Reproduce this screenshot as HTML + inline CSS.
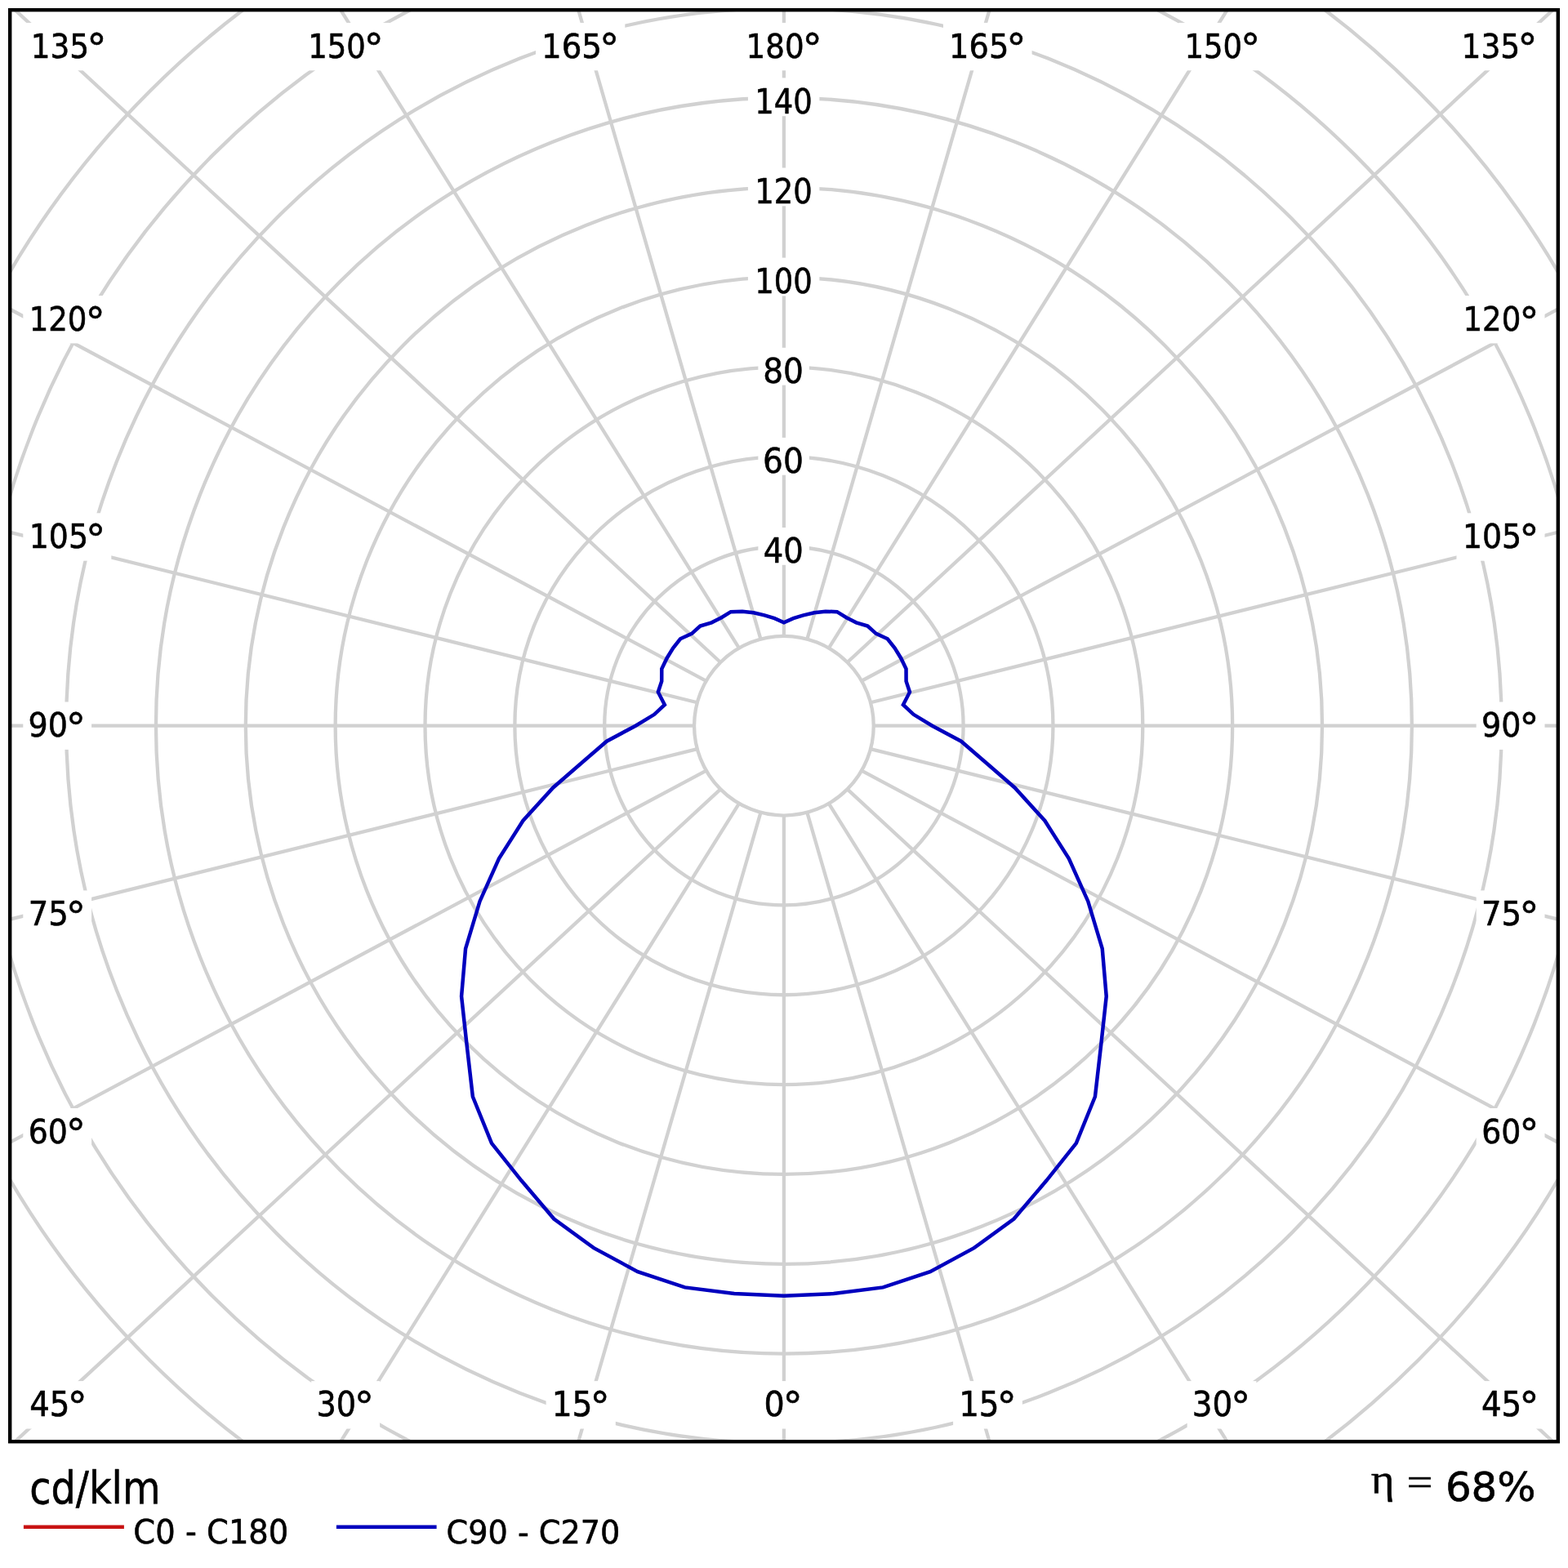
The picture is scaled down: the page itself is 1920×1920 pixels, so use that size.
<!DOCTYPE html>
<html><head><meta charset="utf-8"><title>Polar diagram</title>
<style>html,body{margin:0;padding:0;background:#fff;width:1920px;height:1920px;overflow:hidden}svg{display:block}</style>
</head><body>
<svg width="1920" height="1920" viewBox="0 0 1920 1920">
<defs><clipPath id="fc"><rect x="12.2" y="12.2" width="1895.6" height="1753.0"/></clipPath></defs>
<rect width="1920" height="1920" fill="#fff"/>
<g clip-path="url(#fc)" fill="none" stroke="#d1d1d1" stroke-width="4.3">
<circle cx="959.90" cy="888.70" r="109.85"/>
<circle cx="959.90" cy="888.70" r="219.70"/>
<circle cx="959.90" cy="888.70" r="329.55"/>
<circle cx="959.90" cy="888.70" r="439.40"/>
<circle cx="959.90" cy="888.70" r="549.25"/>
<circle cx="959.90" cy="888.70" r="659.10"/>
<circle cx="959.90" cy="888.70" r="768.95"/>
<circle cx="959.90" cy="888.70" r="878.80"/>
<circle cx="959.90" cy="888.70" r="988.65"/>
<circle cx="959.90" cy="888.70" r="1098.50"/>
<path d="M959.90 998.55L959.90 3998.55M931.47 994.81L96.57 3876.29M904.98 983.83L-683.77 3528.61M882.22 966.38L-1320.32 3003.23M864.77 943.62L-1781.65 2356.59M853.79 917.13L-2058.14 1638.69M850.05 888.70L-2149.95 888.70M853.79 860.27L-2058.14 138.71M864.77 833.78L-1781.65 -579.19M882.22 811.02L-1320.32 -1225.83M904.98 793.57L-683.77 -1751.21M931.47 782.59L96.57 -2098.89M959.90 778.85L959.90 -2221.15M988.33 782.59L1823.23 -2098.89M1014.83 793.57L2603.57 -1751.21M1037.58 811.02L3240.12 -1225.83M1055.03 833.77L3701.45 -579.19M1066.01 860.27L3977.94 138.71M1069.75 888.70L4069.75 888.70M1066.01 917.13L3977.94 1638.69M1055.03 943.62L3701.45 2356.59M1037.58 966.38L3240.12 3003.23M1014.83 983.83L2603.57 3528.61M988.33 994.81L1823.23 3876.29"/>
</g>
<g fill="#fff">
<rect x="30.6" y="27.9" width="107.0" height="58.4"/>
<rect x="369.9" y="27.9" width="107.0" height="58.4"/>
<rect x="656.0" y="27.9" width="109.3" height="58.4"/>
<rect x="906.3" y="27.9" width="107.5" height="58.4"/>
<rect x="1155.0" y="27.9" width="108.6" height="58.4"/>
<rect x="1443.2" y="27.9" width="107.1" height="58.4"/>
<rect x="1782.3" y="27.9" width="107.3" height="58.4"/>
<rect x="28.3" y="362.0" width="108.0" height="58.4"/>
<rect x="1783.5" y="362.0" width="108.0" height="58.4"/>
<rect x="28.3" y="628.3" width="108.0" height="58.4"/>
<rect x="1783.5" y="628.3" width="108.0" height="58.4"/>
<rect x="28.3" y="859.5" width="83.8" height="58.4"/>
<rect x="1807.7" y="859.5" width="83.8" height="58.4"/>
<rect x="28.3" y="1090.4" width="83.8" height="58.4"/>
<rect x="1807.7" y="1090.4" width="83.8" height="58.4"/>
<rect x="28.3" y="1357.0" width="83.8" height="58.4"/>
<rect x="1807.7" y="1357.0" width="83.8" height="58.4"/>
<rect x="29.1" y="1691.1" width="84.7" height="58.4"/>
<rect x="381.2" y="1691.1" width="83.9" height="58.4"/>
<rect x="668.6" y="1691.1" width="85.2" height="58.4"/>
<rect x="929.1" y="1691.1" width="60.7" height="58.4"/>
<rect x="1167.1" y="1691.1" width="84.8" height="58.4"/>
<rect x="1453.7" y="1691.1" width="84.7" height="58.4"/>
<rect x="1806.8" y="1691.1" width="84.7" height="58.4"/>
<rect x="928.4" y="646.0" width="62.5" height="45.8"/>
<rect x="928.4" y="535.9" width="62.5" height="45.8"/>
<rect x="928.4" y="425.8" width="62.5" height="45.8"/>
<rect x="915.9" y="315.6" width="87.5" height="46.8"/>
<rect x="915.9" y="205.5" width="87.5" height="46.8"/>
<rect x="915.9" y="95.4" width="87.5" height="46.8"/>
</g>
<path d="M959.90 1586.70 L899.07 1584.04 L838.64 1576.39 L780.80 1557.12 L727.16 1528.16 L678.31 1492.57 L638.40 1445.55 L601.99 1399.85 L578.86 1342.81 L571.34 1277.26 L565.08 1219.99 L570.07 1161.67 L587.51 1103.70 L610.97 1051.41 L640.40 1004.99 L677.27 964.43 L714.68 931.94 L742.83 907.69 L778.30 888.70 L801.21 874.82 L813.85 862.95 L805.83 847.42 L810.21 834.22 L810.27 818.93 L816.57 805.95 L824.17 793.66 L833.04 782.25 L847.05 775.85 L857.38 766.52 L871.40 762.30 L883.40 756.20 L894.82 749.13 L908.94 748.69 L922.81 750.28 L936.04 753.39 L948.40 757.20 L959.90 762.30 L971.40 757.20 L983.76 753.39 L996.99 750.28 L1010.86 748.69 L1024.98 749.13 L1036.40 756.20 L1048.40 762.30 L1062.42 766.52 L1072.75 775.85 L1086.76 782.25 L1095.63 793.66 L1103.23 805.95 L1109.53 818.93 L1109.59 834.22 L1113.97 847.42 L1105.95 862.95 L1118.59 874.82 L1141.50 888.70 L1176.97 907.69 L1205.12 931.94 L1242.53 964.43 L1279.40 1004.99 L1308.83 1051.41 L1332.29 1103.70 L1349.73 1161.67 L1354.72 1219.99 L1348.46 1277.26 L1340.94 1342.81 L1317.81 1399.85 L1281.40 1445.55 L1241.49 1492.57 L1192.64 1528.16 L1139.00 1557.12 L1081.16 1576.39 L1020.73 1584.04 Z" fill="none" stroke="#0000be" stroke-width="4.5" stroke-linejoin="miter"/>
<g fill="#000" stroke="#000" stroke-width="0.55" stroke-linejoin="round">
<text x="37.82" y="70.80" font-family="'DejaVu Sans Condensed','DejaVu Sans',sans-serif" font-stretch="condensed" font-size="41.52">135</text>
<text transform="translate(106.28 76.98) scale(1.0856 1)" font-family="'DejaVu Sans Condensed','DejaVu Sans',sans-serif" font-stretch="condensed" font-size="49.84">°</text>
<text transform="translate(377.17 70.80) scale(0.9889 1)" font-family="'DejaVu Sans Condensed','DejaVu Sans',sans-serif" font-stretch="condensed" font-size="41.52">150</text>
<text transform="translate(445.58 76.98) scale(1.0856 1)" font-family="'DejaVu Sans Condensed','DejaVu Sans',sans-serif" font-stretch="condensed" font-size="49.84">°</text>
<text transform="translate(663.07 70.80) scale(1.0377 1)" font-family="'DejaVu Sans Condensed','DejaVu Sans',sans-serif" font-stretch="condensed" font-size="41.52">165</text>
<text transform="translate(733.98 76.98) scale(1.0856 1)" font-family="'DejaVu Sans Condensed','DejaVu Sans',sans-serif" font-stretch="condensed" font-size="49.84">°</text>
<text transform="translate(913.54 70.80) scale(0.9966 1)" font-family="'DejaVu Sans Condensed','DejaVu Sans',sans-serif" font-stretch="condensed" font-size="41.52">180</text>
<text transform="translate(982.48 76.98) scale(1.0856 1)" font-family="'DejaVu Sans Condensed','DejaVu Sans',sans-serif" font-stretch="condensed" font-size="49.84">°</text>
<text transform="translate(1162.12 70.80) scale(1.0268 1)" font-family="'DejaVu Sans Condensed','DejaVu Sans',sans-serif" font-stretch="condensed" font-size="41.52">165</text>
<text transform="translate(1232.28 76.98) scale(1.0856 1)" font-family="'DejaVu Sans Condensed','DejaVu Sans',sans-serif" font-stretch="condensed" font-size="49.84">°</text>
<text transform="translate(1450.47 70.80) scale(0.9905 1)" font-family="'DejaVu Sans Condensed','DejaVu Sans',sans-serif" font-stretch="condensed" font-size="41.52">150</text>
<text transform="translate(1518.98 76.98) scale(1.0856 1)" font-family="'DejaVu Sans Condensed','DejaVu Sans',sans-serif" font-stretch="condensed" font-size="49.84">°</text>
<text transform="translate(1789.50 70.80) scale(1.0064 1)" font-family="'DejaVu Sans Condensed','DejaVu Sans',sans-serif" font-stretch="condensed" font-size="41.52">135</text>
<text transform="translate(1858.28 76.98) scale(1.0856 1)" font-family="'DejaVu Sans Condensed','DejaVu Sans',sans-serif" font-stretch="condensed" font-size="49.84">°</text>
<text transform="translate(35.65 404.91) scale(1.0129 1)" font-family="'DejaVu Sans Condensed','DejaVu Sans',sans-serif" font-stretch="condensed" font-size="40.73">120</text>
<text transform="translate(104.38 411.68) scale(1.0856 1)" font-family="'DejaVu Sans Condensed','DejaVu Sans',sans-serif" font-stretch="condensed" font-size="49.84">°</text>
<text transform="translate(1791.45 404.91) scale(1.0129 1)" font-family="'DejaVu Sans Condensed','DejaVu Sans',sans-serif" font-stretch="condensed" font-size="40.73">120</text>
<text transform="translate(1860.18 411.68) scale(1.0856 1)" font-family="'DejaVu Sans Condensed','DejaVu Sans',sans-serif" font-stretch="condensed" font-size="49.84">°</text>
<text transform="translate(35.78 671.21) scale(1.0225 1)" font-family="'DejaVu Sans Condensed','DejaVu Sans',sans-serif" font-stretch="condensed" font-size="41.12">105</text>
<text transform="translate(104.98 677.68) scale(1.0856 1)" font-family="'DejaVu Sans Condensed','DejaVu Sans',sans-serif" font-stretch="condensed" font-size="49.84">°</text>
<text transform="translate(1790.98 671.21) scale(1.0225 1)" font-family="'DejaVu Sans Condensed','DejaVu Sans',sans-serif" font-stretch="condensed" font-size="41.12">105</text>
<text transform="translate(1860.18 677.68) scale(1.0856 1)" font-family="'DejaVu Sans Condensed','DejaVu Sans',sans-serif" font-stretch="condensed" font-size="49.84">°</text>
<text transform="translate(34.54 902.41) scale(1.0316 1)" font-family="'DejaVu Sans Condensed','DejaVu Sans',sans-serif" font-stretch="condensed" font-size="40.99">90</text>
<text transform="translate(80.78 908.98) scale(1.0856 1)" font-family="'DejaVu Sans Condensed','DejaVu Sans',sans-serif" font-stretch="condensed" font-size="49.84">°</text>
<text transform="translate(1813.94 902.41) scale(1.0316 1)" font-family="'DejaVu Sans Condensed','DejaVu Sans',sans-serif" font-stretch="condensed" font-size="40.99">90</text>
<text transform="translate(1860.18 908.98) scale(1.0856 1)" font-family="'DejaVu Sans Condensed','DejaVu Sans',sans-serif" font-stretch="condensed" font-size="49.84">°</text>
<text transform="translate(34.67 1133.30) scale(1.0350 1)" font-family="'DejaVu Sans Condensed','DejaVu Sans',sans-serif" font-stretch="condensed" font-size="41.41">75</text>
<text transform="translate(80.78 1140.18) scale(1.0856 1)" font-family="'DejaVu Sans Condensed','DejaVu Sans',sans-serif" font-stretch="condensed" font-size="49.84">°</text>
<text transform="translate(1814.07 1133.30) scale(1.0350 1)" font-family="'DejaVu Sans Condensed','DejaVu Sans',sans-serif" font-stretch="condensed" font-size="41.41">75</text>
<text transform="translate(1860.18 1140.18) scale(1.0856 1)" font-family="'DejaVu Sans Condensed','DejaVu Sans',sans-serif" font-stretch="condensed" font-size="49.84">°</text>
<text transform="translate(34.74 1399.90) scale(1.0141 1)" font-family="'DejaVu Sans Condensed','DejaVu Sans',sans-serif" font-stretch="condensed" font-size="41.52">60</text>
<text transform="translate(80.78 1406.08) scale(1.0856 1)" font-family="'DejaVu Sans Condensed','DejaVu Sans',sans-serif" font-stretch="condensed" font-size="49.84">°</text>
<text transform="translate(1814.14 1399.90) scale(1.0141 1)" font-family="'DejaVu Sans Condensed','DejaVu Sans',sans-serif" font-stretch="condensed" font-size="41.52">60</text>
<text transform="translate(1860.18 1406.08) scale(1.0856 1)" font-family="'DejaVu Sans Condensed','DejaVu Sans',sans-serif" font-stretch="condensed" font-size="49.84">°</text>
<text transform="translate(36.24 1733.98) scale(1.0052 1)" font-family="'DejaVu Sans Condensed','DejaVu Sans',sans-serif" font-stretch="condensed" font-size="42.76">45</text>
<text transform="translate(82.48 1739.88) scale(1.0856 1)" font-family="'DejaVu Sans Condensed','DejaVu Sans',sans-serif" font-stretch="condensed" font-size="49.84">°</text>
<text transform="translate(387.41 1734.00) scale(1.0118 1)" font-family="'DejaVu Sans Condensed','DejaVu Sans',sans-serif" font-stretch="condensed" font-size="41.91">30</text>
<text transform="translate(433.78 1739.88) scale(1.0856 1)" font-family="'DejaVu Sans Condensed','DejaVu Sans',sans-serif" font-stretch="condensed" font-size="49.84">°</text>
<text transform="translate(675.63 1733.98) scale(1.0186 1)" font-family="'DejaVu Sans Condensed','DejaVu Sans',sans-serif" font-stretch="condensed" font-size="42.76">15</text>
<text transform="translate(722.48 1739.88) scale(1.0856 1)" font-family="'DejaVu Sans Condensed','DejaVu Sans',sans-serif" font-stretch="condensed" font-size="49.84">°</text>
<text transform="translate(935.53 1734.00) scale(1.0519 1)" font-family="'DejaVu Sans Condensed','DejaVu Sans',sans-serif" font-stretch="condensed" font-size="41.91">0</text>
<text transform="translate(958.48 1739.88) scale(1.0856 1)" font-family="'DejaVu Sans Condensed','DejaVu Sans',sans-serif" font-stretch="condensed" font-size="49.84">°</text>
<text transform="translate(1174.17 1733.98) scale(1.0090 1)" font-family="'DejaVu Sans Condensed','DejaVu Sans',sans-serif" font-stretch="condensed" font-size="42.76">15</text>
<text transform="translate(1220.58 1739.88) scale(1.0856 1)" font-family="'DejaVu Sans Condensed','DejaVu Sans',sans-serif" font-stretch="condensed" font-size="49.84">°</text>
<text transform="translate(1459.86 1734.00) scale(1.0305 1)" font-family="'DejaVu Sans Condensed','DejaVu Sans',sans-serif" font-stretch="condensed" font-size="41.91">30</text>
<text transform="translate(1507.08 1739.88) scale(1.0856 1)" font-family="'DejaVu Sans Condensed','DejaVu Sans',sans-serif" font-stretch="condensed" font-size="49.84">°</text>
<text transform="translate(1813.94 1733.98) scale(1.0052 1)" font-family="'DejaVu Sans Condensed','DejaVu Sans',sans-serif" font-stretch="condensed" font-size="42.76">45</text>
<text transform="translate(1860.18 1739.88) scale(1.0856 1)" font-family="'DejaVu Sans Condensed','DejaVu Sans',sans-serif" font-stretch="condensed" font-size="49.84">°</text>
<text transform="translate(934.85 689.40) scale(1.0220 1)" font-family="'DejaVu Sans Condensed','DejaVu Sans',sans-serif" font-stretch="condensed" font-size="41.91">40</text>
<text transform="translate(934.05 579.28) scale(1.0395 1)" font-family="'DejaVu Sans Condensed','DejaVu Sans',sans-serif" font-stretch="condensed" font-size="41.91">60</text>
<text transform="translate(934.17 469.16) scale(1.0370 1)" font-family="'DejaVu Sans Condensed','DejaVu Sans',sans-serif" font-stretch="condensed" font-size="41.91">80</text>
<text transform="translate(924.17 359.04) scale(0.9796 1)" font-family="'DejaVu Sans Condensed','DejaVu Sans',sans-serif" font-stretch="condensed" font-size="41.91">100</text>
<text transform="translate(924.17 248.92) scale(0.9796 1)" font-family="'DejaVu Sans Condensed','DejaVu Sans',sans-serif" font-stretch="condensed" font-size="41.91">120</text>
<text transform="translate(924.17 138.80) scale(0.9796 1)" font-family="'DejaVu Sans Condensed','DejaVu Sans',sans-serif" font-stretch="condensed" font-size="41.91">140</text>
</g>
<rect x="12.2" y="12.2" width="1895.6" height="1753.0" fill="none" stroke="#000" stroke-width="4.4"/>
<g fill="#000" stroke="#000" stroke-width="0.55" stroke-linejoin="round">
<text transform="translate(36.22 1841.38) scale(0.9751 1)" font-family="'DejaVu Sans Condensed','DejaVu Sans',sans-serif" font-stretch="condensed" font-size="54.49">cd/klm</text>
<line x1="28.9" y1="1869.8" x2="151.9" y2="1869.8" stroke="#c81212" stroke-width="4.6"/>
<text transform="translate(163.34 1890.12) scale(1.0643 1)" font-family="'DejaVu Sans Condensed','DejaVu Sans',sans-serif" font-stretch="condensed" font-size="40.20">C0 - C180</text>
<line x1="411.9" y1="1869.8" x2="534.6" y2="1869.8" stroke="#0000be" stroke-width="4.6"/>
<text transform="translate(546.55 1889.63) scale(1.0667 1)" font-family="'DejaVu Sans Condensed','DejaVu Sans',sans-serif" font-stretch="condensed" font-size="39.80">C90 - C270</text>
<text transform="translate(1678.85 1827.75) scale(1.0907 1)" font-family="'Liberation Serif',serif" font-size="50.48">η</text>
<text transform="translate(1722.44 1829.99) scale(1.2160 1)" font-family="'Liberation Serif',serif" font-size="46.60">=</text>
<text transform="translate(1769.92 1838.37) scale(1.0959 1)" font-family="'DejaVu Sans Condensed','DejaVu Sans',sans-serif" font-stretch="condensed" font-size="50.50">68%</text>
</g>
</svg>
</body></html>
